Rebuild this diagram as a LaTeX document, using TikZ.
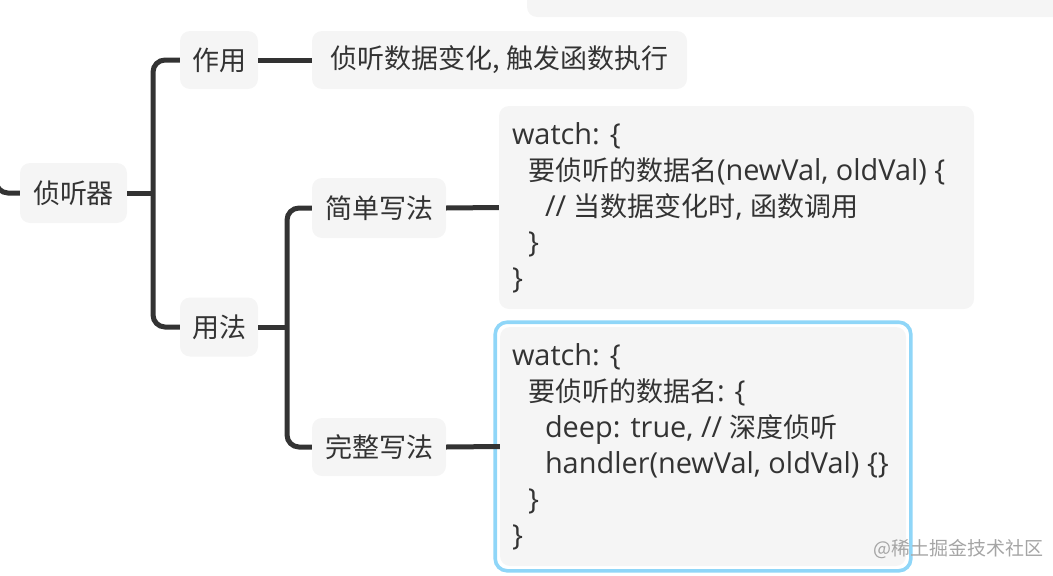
\documentclass[tikz,border=0pt]{standalone}
\usepackage{fontspec}
\setmainfont{Open Sans}[Scale=1.07]
\newfontfamily\cjk{Noto Sans CJK SC}
\definecolor{boxgray}{RGB}{245,245,245}
\definecolor{ink}{RGB}{51,51,51}
\definecolor{framec}{RGB}{143,214,248}
\definecolor{wm}{RGB}{165,165,165}
\begin{document}
\begin{tikzpicture}[x=1pt,y=-1pt,
  box/.style={fill=boxgray, rounded corners=10pt, text=ink, inner sep=0pt,
    font=\cjk\fontsize{27}{36}\selectfont},
  codetext/.style={anchor=west, align=left, text=ink, inner sep=0pt,
    font=\fontsize{27}{36}\selectfont},
  conn/.style={draw=ink, line width=5pt, rounded corners=12pt},
  frame/.style={draw=framec, line width=3.6pt, rounded corners=12pt}]
\useasboundingbox (0,0) rectangle (1053,576);

% partial box at the top edge
\begin{scope}
\clip (0,0) rectangle (1053,576);
\fill[boxgray, rounded corners=10pt] (527,-30) rectangle (1090,17);
\end{scope}

% nodes
\node[box, minimum width=107pt, minimum height=60pt] (qtq) at (73.5,193) {侦听器};
\node[box, minimum width=78pt, minimum height=58pt] (zy) at (219,60) {作用};
\node[box, minimum width=375pt, minimum height=58pt] (zyt) at (499.5,60) {侦听数据变化, 触发函数执行};
\node[box, minimum width=78pt, minimum height=59pt] (yf) at (219,327) {用法};
\node[box, minimum width=134pt, minimum height=60pt] (jd) at (379,208) {简单写法};
\node[box, minimum width=134pt, minimum height=58pt] (wz) at (379,447) {完整写法};

% code box 1
\node[box, minimum width=475pt, minimum height=203pt] (code1) at (736.5,207.5) {};
\node[codetext] (code1t) at ([xshift=13pt]code1.west) {%
watch: \{\\
\hspace*{16pt}{\cjk 要侦听的数据名}(newVal, oldVal) \{\\
\hspace*{33pt}// {\cjk 当数据变化时}, {\cjk 函数调用}\\
\hspace*{16pt}\}\\
\}};

% code box 2 (selected)
\node[box, minimum width=406pt, minimum height=239pt] (code2) at (703,446.5) {};
\draw[frame] ([shift={(-4.6,-4.6)}]code2.north west) rectangle ([shift={(4.6,4.6)}]code2.south east);
\node[codetext] (code2t) at ([xshift=12pt]code2.west) {%
watch: \{\\
\hspace*{16pt}{\cjk 要侦听的数据名}: \{\\
\hspace*{33pt}deep: true, // {\cjk 深度侦听}\\
\hspace*{33pt}handler(newVal, oldVal) \{\}\\
\hspace*{16pt}\}\\
\}};

% watermark
\node[anchor=west, inner sep=0pt, text=wm, font=\cjk\fontsize{19}{19}\selectfont] (wmark) at (873,549) {@稀土掘金技术社区};

% connectors
\coordinate (lup) at (-4,110);
\draw[conn] (qtq.west) -| (lup);
\coordinate (b1) at (153,193);
\draw[conn] (qtq.east) -- (b1);
\draw[conn] (zy.west) -| (b1) |- (yf.west);
\draw[conn] (zy.east) -- (zyt.west);
\coordinate (b2) at (287,327);
\draw[conn] (yf.east) -- (b2);
\draw[conn] (jd.west) -| (b2) |- (wz.west);
\draw[conn] (jd.east) -- (code1.west);
\draw[conn] (wz.east) -- (code2.west);
\end{tikzpicture}
\end{document}
